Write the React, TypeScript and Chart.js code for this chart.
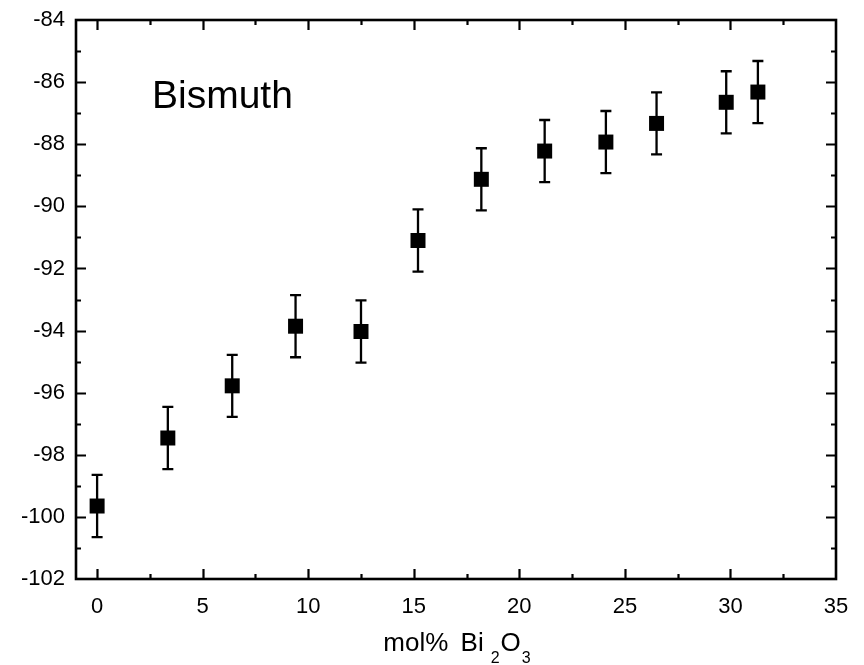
import React, { useEffect, useRef } from "react";
import { Chart, registerables } from "chart.js";

Chart.register(...registerables);

const molPercent = [0, 3.35, 6.4, 9.4, 12.5, 15.2, 18.2, 21.2, 24.1, 26.5, 29.8, 31.3];
const shift = [-99.65, -97.46, -95.78, -93.86, -94.03, -91.1, -89.13, -88.22, -87.93, -87.33, -86.65, -86.32];
const errors = [1.0, 1.0, 1.0, 1.0, 1.0, 1.0, 1.0, 1.0, 1.0, 1.0, 1.0, 1.0];
const xTicks = [0, 5, 10, 15, 20, 25, 30, 35];
const xMinorTicks = [2.5, 7.5, 12.5, 17.5, 22.5, 27.5, 32.5];
const yTicks = [-102, -100, -98, -96, -94, -92, -90, -88, -86, -84];
const yMinorTicks = [-101, -99, -97, -95, -93, -91, -89, -87, -85];
const sampleLabel = "Bismuth";
const sampleLabelPos = { x: 2.6, y: -86.83 };

const FONT = '"Liberation Sans", Arial, Helvetica, sans-serif';

const framePlugin = {
  id: "frame",
  beforeDatasetsDraw(chart: any) {
    const ctx = chart.ctx;
    const xs = chart.scales.x;
    const ys = chart.scales.y;
    ctx.save();
    ctx.strokeStyle = "#000";
    ctx.lineWidth = 2.3;
    ctx.lineCap = "butt";
    for (let i = 0; i < molPercent.length; i++) {
      const px = xs.getPixelForValue(molPercent[i]);
      const top = ys.getPixelForValue(shift[i] + errors[i]);
      const bot = ys.getPixelForValue(shift[i] - errors[i]);
      ctx.beginPath();
      ctx.moveTo(px, top);
      ctx.lineTo(px, bot);
      ctx.moveTo(px - 5.5, top);
      ctx.lineTo(px + 5.5, top);
      ctx.moveTo(px - 5.5, bot);
      ctx.lineTo(px + 5.5, bot);
      ctx.stroke();
    }
    ctx.restore();
  },
  afterDraw(chart: any) {
    const ctx = chart.ctx;
    const a = chart.chartArea;
    const xs = chart.scales.x;
    const ys = chart.scales.y;
    ctx.save();
    ctx.strokeStyle = "#000";
    ctx.lineWidth = 2.2;
    ctx.beginPath();
    const major = 10;
    const minor = 5;
    xTicks.forEach((v) => {
      const p = Math.round(xs.getPixelForValue(v)) + 0.5;
      if (p > a.right - 2) return;
      ctx.moveTo(p, a.bottom);
      ctx.lineTo(p, a.bottom - major);
      ctx.moveTo(p, a.top);
      ctx.lineTo(p, a.top + major);
    });
    xMinorTicks.forEach((v) => {
      const p = Math.round(xs.getPixelForValue(v)) + 0.5;
      ctx.moveTo(p, a.bottom);
      ctx.lineTo(p, a.bottom - minor);
      ctx.moveTo(p, a.top);
      ctx.lineTo(p, a.top + minor);
    });
    yTicks.forEach((v) => {
      const p = Math.round(ys.getPixelForValue(v)) + 0.5;
      if (p < a.top + 2 || p > a.bottom - 2) return;
      ctx.moveTo(a.left, p);
      ctx.lineTo(a.left + major, p);
      ctx.moveTo(a.right, p);
      ctx.lineTo(a.right - major, p);
    });
    yMinorTicks.forEach((v) => {
      const p = Math.round(ys.getPixelForValue(v)) + 0.5;
      ctx.moveTo(a.left, p);
      ctx.lineTo(a.left + minor, p);
      ctx.moveTo(a.right, p);
      ctx.lineTo(a.right - minor, p);
    });
    ctx.stroke();
    ctx.lineWidth = 2.6;
    ctx.strokeRect(a.left, a.top, a.right - a.left, a.bottom - a.top);

    // sample label
    ctx.fillStyle = "#000";
    ctx.font = `39px ${FONT}`;
    ctx.textBaseline = "alphabetic";
    ctx.textAlign = "left";
    ctx.fillText(sampleLabel, xs.getPixelForValue(sampleLabelPos.x), ys.getPixelForValue(sampleLabelPos.y));

    // x axis title with subscripts
    const parts: { t: string; sub: boolean; gap: number }[] = [
      { t: "mol% ", sub: false, gap: 0 },
      { t: "Bi", sub: false, gap: 5 },
      { t: "2", sub: true, gap: 7 },
      { t: "O", sub: false, gap: 1 },
      { t: "3", sub: true, gap: 1 },
    ];
    const mainFont = `26px ${FONT}`;
    const subFont = `16px ${FONT}`;
    let total = 0;
    parts.forEach((p) => {
      ctx.font = p.sub ? subFont : mainFont;
      total += p.gap + ctx.measureText(p.t).width;
    });
    let cx = (a.left + a.right) / 2 + 1 - total / 2;
    const baseline = a.bottom + 72;
    parts.forEach((p) => {
      ctx.font = p.sub ? subFont : mainFont;
      cx += p.gap;
      ctx.fillText(p.t, cx, p.sub ? baseline + 12 : baseline);
      cx += ctx.measureText(p.t).width;
    });
    ctx.restore();
  },
};

export default function App() {
  const canvasRef = useRef<HTMLCanvasElement | null>(null);

  useEffect(() => {
    document.body.style.margin = "0";
    const canvas = canvasRef.current;
    if (!canvas) return;
    const chart = new Chart(canvas, {
      type: "scatter",
      data: {
        datasets: [
          {
            label: "Bismuth",
            data: molPercent.map((x, i) => ({ x, y: shift[i] })),
            pointStyle: "rect",
            pointRadius: 10.6,
            pointHoverRadius: 10.6,
            pointBackgroundColor: "#000",
            pointBorderWidth: 0,
            borderColor: "#000",
            showLine: false,
          },
        ],
      },
      options: {
        animation: false,
        responsive: false,
        maintainAspectRatio: false,
        layout: { padding: { top: 20, right: 28, left: 0, bottom: 0 } },
        plugins: {
          legend: { display: false },
          tooltip: { enabled: false },
          title: { display: false },
        },
        scales: {
          x: {
            type: "linear",
            min: -1,
            max: 35,
            afterBuildTicks: (scale: any) => {
              scale.ticks = xTicks.map((v) => ({ value: v }));
            },
            afterFit: (scale: any) => {
              scale.height = 86;
              scale.paddingLeft = 0;
              scale.paddingRight = 0;
            },
            grid: { display: false, drawTicks: false },
            border: { display: false },
            ticks: {
              padding: 15,
              color: "#000",
              font: { family: FONT, size: 22 },
              maxRotation: 0,
              autoSkip: false,
            },
          },
          y: {
            type: "linear",
            min: -102,
            max: -84,
            afterBuildTicks: (scale: any) => {
              scale.ticks = yTicks.map((v) => ({ value: v }));
            },
            afterFit: (scale: any) => {
              scale.width = 76;
              scale.paddingTop = 0;
              scale.paddingBottom = 0;
            },
            grid: { display: false, drawTicks: false },
            border: { display: false },
            ticks: {
              padding: 11,
              color: "#000",
              font: { family: FONT, size: 22 },
              autoSkip: false,
            },
          },
        },
      },
      plugins: [framePlugin],
    });
    return () => chart.destroy();
  }, []);

  return (
    <div style={{ position: "relative", width: 864, height: 665, background: "#fff" }}>
      <canvas ref={canvasRef} width={864} height={665} style={{ display: "block", width: 864, height: 665 }} />
    </div>
  );
}
